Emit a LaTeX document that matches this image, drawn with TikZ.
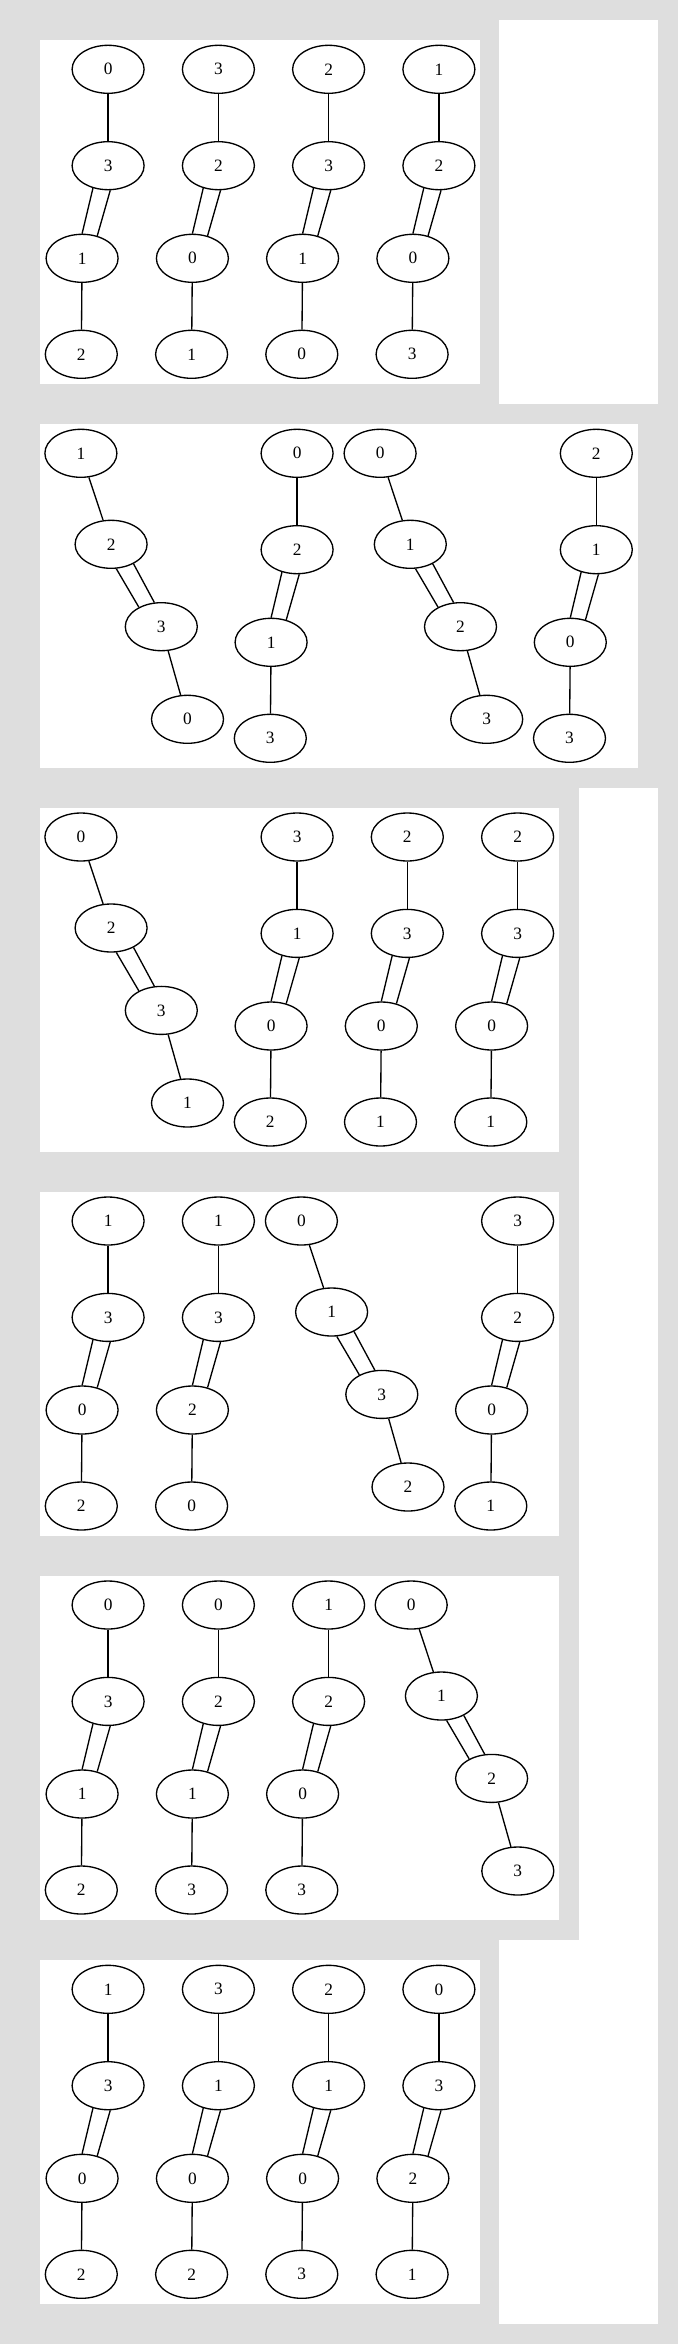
\documentclass[tikz,border=0pt]{standalone}
\usepackage{fontspec}
\setmainfont{Liberation Serif}
\usetikzlibrary{shapes.geometric}
\definecolor{bggray}{RGB}{222,222,222}
\tikzset{
  gnode/.style={draw, ellipse, line width=1pt, minimum width=54pt, minimum height=36pt, inner sep=0pt, font=\fontsize{13}{15}\selectfont},
  gedge/.style={line width=1pt},
  panel/.style={fill=white, draw=none},
}
% vertical chain: prefix, X, Ytop, four labels
\newcommand{\vchain}[7]{%
  \node[gnode] (#1a) at (#2,#3) {#4};
  \node[gnode] (#1b) at (#2,#3+96.4) {#5};
  \node[gnode] (#1c) at (#2-26,#3+189) {#6};
  \node[gnode] (#1d) at (#2-26.8,#3+285) {#7};
  \draw[gedge] (#1a) -- (#1b);
  \draw[gedge] (#1b.236) -- (#1c.90);
  \draw[gedge] (#1b.275) -- (#1c.56);
  \draw[gedge] (#1c) -- (#1d);
}
% diagonal chain: prefix, X, Ytop, four labels
\newcommand{\dchain}[7]{%
  \node[gnode] (#1a) at (#2,#3) {#4};
  \node[gnode] (#1b) at (#2+30.2,#3+91) {#5};
  \node[gnode] (#1c) at (#2+80.4,#3+173.4) {#6};
  \node[gnode] (#1d) at (#2+106.6,#3+266) {#7};
  \draw[gedge] (#1a) -- (#1b);
  \draw[gedge] (#1b.282) -- (#1c.139);
  \draw[gedge] (#1b.319) -- (#1c.106);
  \draw[gedge] (#1c) -- (#1d);
}
\begin{document}
\begin{tikzpicture}[x=0.75pt, y=-0.75pt]
  \useasboundingbox (0,0) rectangle (678,2344);
  \fill[bggray] (0,0) rectangle (678,2344);
  % empty side panels
  \fill[panel] (499.4,20) rectangle (658.1,404);
  \fill[panel] (579.4,787.7) rectangle (658.1,1940);
  \fill[panel] (499.4,1940) rectangle (658.1,2324);
  % graph panels
  \fill[panel] (40.2,40) rectangle (480,384);
  \fill[panel] (40.2,424) rectangle (637.8,767.7);
  \fill[panel] (40.2,807.7) rectangle (559,1151.7);
  \fill[panel] (40.2,1191.7) rectangle (559,1535.7);
  \fill[panel] (40.2,1575.7) rectangle (559,1919.7);
  \fill[panel] (40.2,1960) rectangle (480,2304);
  % panel 1
  \vchain{pAa}{108.1}{69.3}{0}{3}{1}{2}
  \vchain{pAb}{218.4}{69.3}{3}{2}{0}{1}
  \vchain{pAc}{328.6}{69.3}{2}{3}{1}{0}
  \vchain{pAd}{438.9}{69.3}{1}{2}{0}{3}
  % panel 2
  \dchain{pBa}{80.9}{453.3}{1}{2}{3}{0}
  \vchain{pBb}{297.1}{453.3}{0}{2}{1}{3}
  \dchain{pBc}{380.1}{453.3}{0}{1}{2}{3}
  \vchain{pBd}{596.3}{453.3}{2}{1}{0}{3}
  % panel 3
  \dchain{pCa}{80.9}{837}{0}{2}{3}{1}
  \vchain{pCb}{297.1}{837}{3}{1}{0}{2}
  \vchain{pCc}{407.3}{837}{2}{3}{0}{1}
  \vchain{pCd}{517.6}{837}{2}{3}{0}{1}
  % panel 4
  \vchain{pDa}{108.1}{1221}{1}{3}{0}{2}
  \vchain{pDb}{218.4}{1221}{1}{3}{2}{0}
  \dchain{pDc}{301.4}{1221}{0}{1}{3}{2}
  \vchain{pDd}{517.6}{1221}{3}{2}{0}{1}
  % panel 5
  \vchain{pEa}{108.1}{1605}{0}{3}{1}{2}
  \vchain{pEb}{218.4}{1605}{0}{2}{1}{3}
  \vchain{pEc}{328.6}{1605}{1}{2}{0}{3}
  \dchain{pEd}{411.2}{1605}{0}{1}{2}{3}
  % panel 6
  \vchain{pFa}{108.1}{1989.3}{1}{3}{0}{2}
  \vchain{pFb}{218.4}{1989.3}{3}{1}{0}{2}
  \vchain{pFc}{328.6}{1989.3}{2}{1}{0}{3}
  \vchain{pFd}{438.9}{1989.3}{0}{3}{2}{1}
\end{tikzpicture}
\end{document}
